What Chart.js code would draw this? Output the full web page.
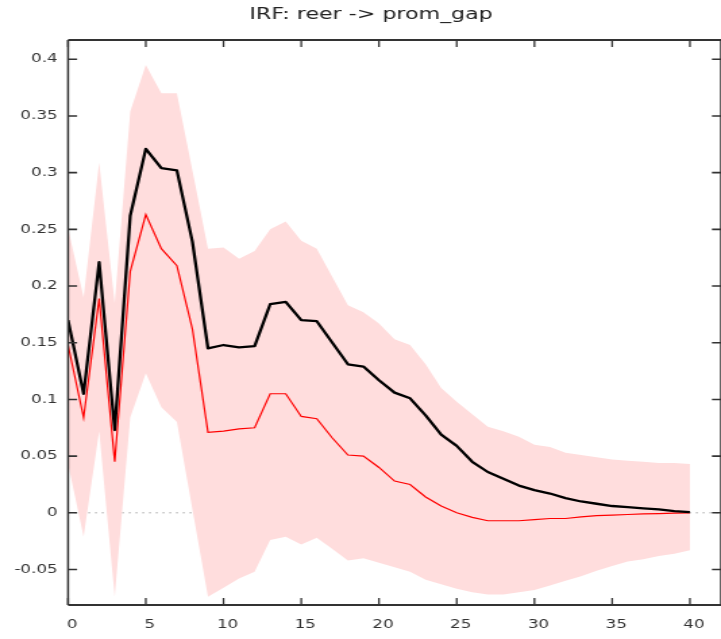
<!DOCTYPE html>
<html>
<head>
<meta charset="utf-8">
<title>IRF: reer -> prom_gap</title>
<script src="https://cdn.jsdelivr.net/npm/chart.js@4.4.1/dist/chart.umd.min.js"></script>
<style>
    html, body { margin: 0; padding: 0; background: #fff; }
</style>
</head>
<body>
<!-- the original plot is a gnuplot png that was stretched sideways, so the canvas is too -->
<canvas id="irfChart" width="534" height="639" style="display:block;width:721px;height:639px"></canvas>
<script>
// Horizons (periods after the shock)
const horizons = [0, 1, 2, 3, 4, 5, 6, 7, 8, 9, 10, 11, 12, 13, 14, 15, 16, 17, 18, 19, 20,
    21, 22, 23, 24, 25, 26, 27, 28, 29, 30, 31, 32, 33, 34, 35, 36, 37, 38, 39, 40];

// Point estimate of the response (black)
const irfPoint = [0.170, 0.105, 0.221, 0.073, 0.262, 0.321, 0.304, 0.302, 0.239, 0.145,
    0.148, 0.146, 0.147, 0.184, 0.186, 0.170, 0.169, 0.150, 0.131, 0.129,
    0.117, 0.106, 0.101, 0.086, 0.069, 0.059, 0.045, 0.036, 0.030, 0.024,
    0.020, 0.017, 0.013, 0.010, 0.008, 0.006, 0.005, 0.004, 0.003, 0.0015, 0.0006];

// Bootstrap median (red)
const irfMedian = [0.148, 0.084, 0.189, 0.045, 0.213, 0.263, 0.233, 0.218, 0.162, 0.071,
    0.072, 0.074, 0.075, 0.105, 0.105, 0.085, 0.083, 0.066, 0.051, 0.050,
    0.040, 0.028, 0.025, 0.014, 0.006, 0.000, -0.004, -0.007, -0.007, -0.007,
    -0.006, -0.005, -0.005, -0.0035, -0.0025, -0.002, -0.0015, -0.001, -0.0007, -0.0003, 0];

// Confidence band
const bandUpper = [0.251, 0.190, 0.309, 0.185, 0.354, 0.395, 0.370, 0.370, 0.302, 0.233,
    0.234, 0.224, 0.231, 0.250, 0.257, 0.240, 0.233, 0.208, 0.183, 0.177,
    0.167, 0.153, 0.148, 0.131, 0.110, 0.098, 0.087, 0.076, 0.072, 0.067,
    0.060, 0.058, 0.053, 0.051, 0.049, 0.047, 0.046, 0.045, 0.044, 0.044, 0.043];
const bandLower = [0.043, -0.021, 0.072, -0.074, 0.084, 0.123, 0.093, 0.080, 0.003, -0.074,
    -0.066, -0.058, -0.052, -0.024, -0.021, -0.028, -0.022, -0.032, -0.042, -0.040,
    -0.044, -0.048, -0.052, -0.059, -0.063, -0.067, -0.070, -0.072, -0.072, -0.070,
    -0.068, -0.064, -0.060, -0.056, -0.051, -0.047, -0.043, -0.041, -0.038, -0.036, -0.033];

// Tick labels
const xTicks = [0, 5, 10, 15, 20, 25, 30, 35, 40];
const yTicks = [-0.05, 0, 0.05, 0.1, 0.15, 0.2, 0.25, 0.3, 0.35, 0.4];

const chartTitle = 'IRF: reer -> prom_gap';

function toPoints(values) {
    return horizons.map((h, i) => ({ x: h, y: values[i] }));
}

// gnuplot style: dotted zero line behind the band, box border with inward ticks
const plotFrame = {
    id: 'plotFrame',
    beforeDatasetsDraw(chart) {
        const { ctx, chartArea: area, scales } = chart;
        const zeroY = scales.y.getPixelForValue(0);
        ctx.save();
        ctx.strokeStyle = '#a0a0a0';
        ctx.lineWidth = 1;
        ctx.setLineDash([1.4, 3.6]);
        ctx.beginPath();
        ctx.moveTo(area.left, zeroY);
        ctx.lineTo(area.right, zeroY);
        ctx.stroke();
        ctx.restore();
    },
    afterDatasetsDraw(chart) {
        const { ctx, chartArea: area, scales } = chart;
        ctx.save();
        ctx.strokeStyle = '#333';

        ctx.lineWidth = 1.3;
        xTicks.forEach(v => {
            const px = scales.x.getPixelForValue(v);
            ctx.beginPath();
            ctx.moveTo(px, area.bottom);
            ctx.lineTo(px, area.bottom - 7);
            ctx.moveTo(px, area.top);
            ctx.lineTo(px, area.top + 7);
            ctx.stroke();
        });

        ctx.lineWidth = 1.6;
        yTicks.forEach(v => {
            const py = scales.y.getPixelForValue(v);
            ctx.beginPath();
            ctx.moveTo(area.left, py);
            ctx.lineTo(area.left + 6.7, py);
            ctx.moveTo(area.right, py);
            ctx.lineTo(area.right - 6.7, py);
            ctx.stroke();
        });

        // border box
        ctx.lineWidth = 1.8;
        ctx.beginPath();
        ctx.moveTo(area.left, area.top);
        ctx.lineTo(area.right, area.top);
        ctx.moveTo(area.left, area.bottom);
        ctx.lineTo(area.right, area.bottom);
        ctx.stroke();
        ctx.lineWidth = 1.5;
        ctx.beginPath();
        ctx.moveTo(area.left, area.top);
        ctx.lineTo(area.left, area.bottom);
        ctx.moveTo(area.right, area.top);
        ctx.lineTo(area.right, area.bottom);
        ctx.stroke();
        ctx.restore();
    }
};

Chart.defaults.font.family = "'DejaVu Sans', sans-serif";

new Chart(document.getElementById('irfChart'), {
    type: 'line',
    data: {
        datasets: [
            {
                label: 'point estimate',
                data: toPoints(irfPoint),
                borderColor: '#000000',
                borderWidth: 2.3,
                borderJoinStyle: 'round',
                fill: false
            },
            {
                label: 'median',
                data: toPoints(irfMedian),
                borderColor: '#ff0000',
                borderWidth: 1.2,
                fill: false
            },
            {
                label: 'upper',
                data: toPoints(bandUpper),
                borderColor: 'rgba(0,0,0,0)',
                borderWidth: 0,
                backgroundColor: '#ffdddd',
                fill: '+1'
            },
            {
                label: 'lower',
                data: toPoints(bandLower),
                borderColor: 'rgba(0,0,0,0)',
                borderWidth: 0,
                fill: false
            }
        ]
    },
    options: {
        responsive: false,
        devicePixelRatio: 1,
        animation: false,
        elements: {
            point: { radius: 0 },
            line: { tension: 0 }
        },
        layout: { padding: 0 },
        plugins: {
            legend: { display: false },
            tooltip: { enabled: false },
            title: {
                display: true,
                text: '   ' + chartTitle,
                color: '#222',
                font: { size: 16.4, weight: 'normal', lineHeight: 1.2 },
                padding: { top: 5, bottom: 15.32 }
            }
        },
        scales: {
            x: {
                type: 'linear',
                min: 0,
                max: 42,
                grid: { display: false, drawTicks: false },
                border: { display: false },
                afterBuildTicks: scale => {
                    scale.ticks = xTicks.map(v => ({ value: v }));
                },
                afterFit: scale => {
                    scale.height = 34;
                },
                ticks: {
                    color: '#333',
                    font: { size: 12.4 },
                    padding: 12,
                    labelOffset: 3,
                    maxRotation: 0,
                    callback: v => String(v)
                }
            },
            y: {
                type: 'linear',
                min: -0.0813,
                max: 0.417,
                grid: { display: false, drawTicks: false },
                border: { display: false },
                afterBuildTicks: scale => {
                    scale.ticks = yTicks.map(v => ({ value: v }));
                },
                afterFit: scale => {
                    scale.width = 50.4;
                },
                ticks: {
                    color: '#333',
                    font: { size: 12.4 },
                    padding: 7.7,
                    callback: v => String(Math.round(v * 100) / 100)
                }
            }
        }
    },
    plugins: [plotFrame]
});
</script>
</body>
</html>
